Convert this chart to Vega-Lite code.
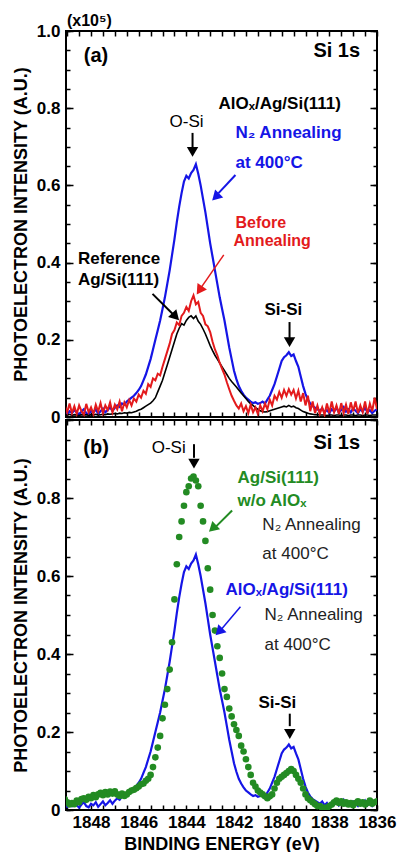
{
"$schema":"https://vega.github.io/schema/vega-lite/v6.json",
"background":"white",
"padding":{"left":11,"top":11,"right":5,"bottom":2},
"spacing":3,
"bounds":"flush",
"config":{
 "view":{"stroke":"black","strokeWidth":2},
 "font":"Liberation Sans",
 "axis":{"grid":false,"domain":false,"labelFont":"Liberation Sans","labelFontSize":17,"labelFontWeight":"bold","labelColor":"black","titleFont":"Liberation Sans","titleFontSize":18,"titleFontWeight":"bold","titleColor":"black","tickColor":"black","tickWidth":1.5,"labelOverlap":false,"labelFlush":false},
 "text":{"font":"Liberation Sans"}
},
"datasets":{"spec":[
{"e":1849.1,"b":0.012,"r":0.030,"k":0.006,"g":0.028},
{"e":1849.0,"b":0.008,"r":0.012,"k":0.005,"g":0.020},
{"e":1848.9,"b":0.015,"r":0.035,"k":0.007,"g":0.014},
{"e":1848.8,"b":0.010,"r":0.010,"k":0.004,"g":0.018},
{"e":1848.7,"b":0.018,"r":0.028,"k":0.006,"g":0.015},
{"e":1848.6,"b":0.012,"r":0.008,"k":0.005,"g":0.024},
{"e":1848.5,"b":0.006,"r":0.030,"k":0.004,"g":0.020},
{"e":1848.4,"b":0.014,"r":0.015,"k":0.006,"g":0.028},
{"e":1848.3,"b":0.020,"r":0.006,"k":0.005,"g":0.030},
{"e":1848.2,"b":0.010,"r":0.034,"k":0.006,"g":0.026},
{"e":1848.1,"b":0.007,"r":0.012,"k":0.004,"g":0.034},
{"e":1848.0,"b":0.016,"r":0.025,"k":0.006,"g":0.030},
{"e":1847.9,"b":0.012,"r":0.008,"k":0.005,"g":0.038},
{"e":1847.8,"b":0.020,"r":0.032,"k":0.007,"g":0.033},
{"e":1847.7,"b":0.008,"r":0.014,"k":0.005,"g":0.040},
{"e":1847.6,"b":0.015,"r":0.036,"k":0.006,"g":0.044},
{"e":1847.5,"b":0.022,"r":0.010,"k":0.007,"g":0.038},
{"e":1847.4,"b":0.012,"r":0.030,"k":0.006,"g":0.046},
{"e":1847.3,"b":0.018,"r":0.018,"k":0.008,"g":0.040},
{"e":1847.2,"b":0.025,"r":0.038,"k":0.007,"g":0.047},
{"e":1847.1,"b":0.016,"r":0.012,"k":0.008,"g":0.042},
{"e":1847.0,"b":0.024,"r":0.032,"k":0.009,"g":0.048},
{"e":1846.9,"b":0.030,"r":0.020,"k":0.008,"g":0.040},
{"e":1846.8,"b":0.026,"r":0.040,"k":0.010,"g":0.036},
{"e":1846.7,"b":0.035,"r":0.015,"k":0.009,"g":0.042},
{"e":1846.6,"b":0.032,"r":0.038,"k":0.011,"g":0.036},
{"e":1846.5,"b":0.040,"r":0.025,"k":0.010,"g":0.040},
{"e":1846.4,"b":0.045,"r":0.044,"k":0.012,"g":0.046},
{"e":1846.3,"b":0.050,"r":0.030,"k":0.011,"g":0.050},
{"e":1846.2,"b":0.055,"r":0.048,"k":0.013,"g":0.052},
{"e":1846.1,"b":0.062,"r":0.040,"k":0.015,"g":0.056},
{"e":1846.0,"b":0.070,"r":0.058,"k":0.018,"g":0.060},
{"e":1845.9,"b":0.080,"r":0.050,"k":0.020,"g":0.066},
{"e":1845.8,"b":0.095,"r":0.068,"k":0.024,"g":0.068},
{"e":1845.7,"b":0.110,"r":0.060,"k":0.028,"g":0.075},
{"e":1845.6,"b":0.130,"r":0.085,"k":0.032,"g":0.080},
{"e":1845.5,"b":0.150,"r":0.078,"k":0.036,"g":0.090},
{"e":1845.4,"b":0.175,"r":0.100,"k":0.042,"g":0.110},
{"e":1845.3,"b":0.200,"r":0.095,"k":0.050,"g":0.135},
{"e":1845.2,"b":0.225,"r":0.112,"k":0.065,"g":0.160},
{"e":1845.1,"b":0.250,"r":0.108,"k":0.080,"g":0.190},
{"e":1845.0,"b":0.280,"r":0.130,"k":0.095,"g":0.235},
{"e":1844.9,"b":0.310,"r":0.150,"k":0.115,"g":0.270},
{"e":1844.8,"b":0.345,"r":0.170,"k":0.135,"g":0.310},
{"e":1844.7,"b":0.380,"r":0.190,"k":0.155,"g":0.360},
{"e":1844.6,"b":0.420,"r":0.215,"k":0.175,"g":0.430},
{"e":1844.5,"b":0.460,"r":0.225,"k":0.195,"g":0.540},
{"e":1844.4,"b":0.505,"r":0.245,"k":0.215,"g":0.630},
{"e":1844.3,"b":0.545,"r":0.238,"k":0.230,"g":0.700},
{"e":1844.2,"b":0.580,"r":0.262,"k":0.242,"g":0.740},
{"e":1844.1,"b":0.610,"r":0.270,"k":0.238,"g":0.780},
{"e":1844.0,"b":0.625,"r":0.285,"k":0.250,"g":0.815},
{"e":1843.9,"b":0.618,"r":0.275,"k":0.258,"g":0.830},
{"e":1843.8,"b":0.632,"r":0.300,"k":0.262,"g":0.850},
{"e":1843.7,"b":0.640,"r":0.315,"k":0.255,"g":0.855},
{"e":1843.6,"b":0.655,"r":0.292,"k":0.262,"g":0.845},
{"e":1843.5,"b":0.630,"r":0.298,"k":0.248,"g":0.830},
{"e":1843.4,"b":0.600,"r":0.270,"k":0.240,"g":0.780},
{"e":1843.3,"b":0.565,"r":0.262,"k":0.228,"g":0.740},
{"e":1843.2,"b":0.530,"r":0.240,"k":0.215,"g":0.690},
{"e":1843.1,"b":0.490,"r":0.235,"k":0.200,"g":0.620},
{"e":1843.0,"b":0.450,"r":0.220,"k":0.185,"g":0.565},
{"e":1842.9,"b":0.415,"r":0.195,"k":0.172,"g":0.500},
{"e":1842.8,"b":0.380,"r":0.175,"k":0.160,"g":0.460},
{"e":1842.7,"b":0.345,"r":0.160,"k":0.150,"g":0.420},
{"e":1842.6,"b":0.310,"r":0.140,"k":0.140,"g":0.390},
{"e":1842.5,"b":0.280,"r":0.125,"k":0.130,"g":0.350},
{"e":1842.4,"b":0.250,"r":0.110,"k":0.120,"g":0.310},
{"e":1842.3,"b":0.215,"r":0.090,"k":0.110,"g":0.290},
{"e":1842.2,"b":0.180,"r":0.072,"k":0.100,"g":0.260},
{"e":1842.1,"b":0.150,"r":0.055,"k":0.092,"g":0.240},
{"e":1842.0,"b":0.120,"r":0.042,"k":0.085,"g":0.220},
{"e":1841.9,"b":0.098,"r":0.030,"k":0.078,"g":0.205},
{"e":1841.8,"b":0.080,"r":0.022,"k":0.070,"g":0.190},
{"e":1841.7,"b":0.068,"r":0.035,"k":0.062,"g":0.165},
{"e":1841.6,"b":0.058,"r":0.015,"k":0.055,"g":0.150},
{"e":1841.5,"b":0.050,"r":0.028,"k":0.048,"g":0.130},
{"e":1841.4,"b":0.045,"r":0.010,"k":0.040,"g":0.110},
{"e":1841.3,"b":0.040,"r":0.032,"k":0.034,"g":0.090},
{"e":1841.2,"b":0.036,"r":0.012,"k":0.030,"g":0.070},
{"e":1841.1,"b":0.038,"r":0.025,"k":0.024,"g":0.060},
{"e":1841.0,"b":0.034,"r":0.008,"k":0.020,"g":0.050},
{"e":1840.9,"b":0.036,"r":0.030,"k":0.016,"g":0.045},
{"e":1840.8,"b":0.040,"r":0.015,"k":0.014,"g":0.040},
{"e":1840.7,"b":0.035,"r":0.035,"k":0.013,"g":0.035},
{"e":1840.6,"b":0.045,"r":0.020,"k":0.014,"g":0.030},
{"e":1840.5,"b":0.055,"r":0.045,"k":0.016,"g":0.035},
{"e":1840.4,"b":0.070,"r":0.030,"k":0.018,"g":0.040},
{"e":1840.3,"b":0.085,"r":0.055,"k":0.020,"g":0.055},
{"e":1840.2,"b":0.105,"r":0.045,"k":0.022,"g":0.070},
{"e":1840.1,"b":0.125,"r":0.065,"k":0.024,"g":0.080},
{"e":1840.0,"b":0.145,"r":0.050,"k":0.026,"g":0.085},
{"e":1839.9,"b":0.155,"r":0.070,"k":0.028,"g":0.090},
{"e":1839.8,"b":0.160,"r":0.055,"k":0.026,"g":0.095},
{"e":1839.7,"b":0.168,"r":0.072,"k":0.030,"g":0.100},
{"e":1839.6,"b":0.158,"r":0.058,"k":0.026,"g":0.105},
{"e":1839.5,"b":0.162,"r":0.070,"k":0.028,"g":0.100},
{"e":1839.4,"b":0.145,"r":0.048,"k":0.024,"g":0.090},
{"e":1839.3,"b":0.130,"r":0.068,"k":0.022,"g":0.080},
{"e":1839.2,"b":0.105,"r":0.040,"k":0.018,"g":0.070},
{"e":1839.1,"b":0.080,"r":0.062,"k":0.014,"g":0.055},
{"e":1839.0,"b":0.060,"r":0.030,"k":0.012,"g":0.040},
{"e":1838.9,"b":0.045,"r":0.055,"k":0.010,"g":0.030},
{"e":1838.8,"b":0.035,"r":0.015,"k":0.008,"g":0.025},
{"e":1838.7,"b":0.028,"r":0.040,"k":0.007,"g":0.020},
{"e":1838.6,"b":0.024,"r":0.010,"k":0.006,"g":0.015},
{"e":1838.5,"b":0.020,"r":0.030,"k":0.006,"g":0.010},
{"e":1838.4,"b":0.016,"r":0.008,"k":0.005,"g":0.010},
{"e":1838.3,"b":0.022,"r":0.025,"k":0.005,"g":0.005},
{"e":1838.2,"b":0.012,"r":0.006,"k":0.005,"g":0.006},
{"e":1838.1,"b":0.018,"r":0.035,"k":0.004,"g":0.004},
{"e":1838.0,"b":0.010,"r":0.010,"k":0.005,"g":0.010},
{"e":1837.9,"b":0.020,"r":0.040,"k":0.005,"g":0.014},
{"e":1837.8,"b":0.014,"r":0.012,"k":0.004,"g":0.020},
{"e":1837.7,"b":0.024,"r":0.030,"k":0.005,"g":0.024},
{"e":1837.6,"b":0.012,"r":0.008,"k":0.005,"g":0.018},
{"e":1837.5,"b":0.018,"r":0.036,"k":0.004,"g":0.022},
{"e":1837.4,"b":0.026,"r":0.010,"k":0.005,"g":0.016},
{"e":1837.3,"b":0.014,"r":0.032,"k":0.005,"g":0.020},
{"e":1837.2,"b":0.020,"r":0.008,"k":0.004,"g":0.014},
{"e":1837.1,"b":0.012,"r":0.038,"k":0.005,"g":0.018},
{"e":1837.0,"b":0.022,"r":0.015,"k":0.005,"g":0.012},
{"e":1836.9,"b":0.016,"r":0.040,"k":0.004,"g":0.018},
{"e":1836.8,"b":0.010,"r":0.010,"k":0.005,"g":0.022},
{"e":1836.7,"b":0.020,"r":0.030,"k":0.005,"g":0.016},
{"e":1836.6,"b":0.014,"r":0.012,"k":0.004,"g":0.020},
{"e":1836.5,"b":0.024,"r":0.040,"k":0.005,"g":0.014},
{"e":1836.4,"b":0.012,"r":0.008,"k":0.005,"g":0.018},
{"e":1836.3,"b":0.018,"r":0.035,"k":0.004,"g":0.024},
{"e":1836.2,"b":0.010,"r":0.015,"k":0.005,"g":0.016},
{"e":1836.1,"b":0.016,"r":0.050,"k":0.005,"g":0.020},
{"e":1836.0,"b":0.020,"r":0.020,"k":0.005,"g":0.022}
]},
"vconcat":[
{
 "width":311,"height":386,
 "resolve":{"axis":{"x":"independent","y":"independent"}},
 "layer":[
  {"data":{"name":"spec"},"mark":{"type":"line","color":"#1515e6","strokeWidth":2.2,"clip":true},
   "encoding":{
    "x":{"field":"e","type":"quantitative","scale":{"domain":[1849.05,1836],"nice":false,"zero":false},"axis":{"orient":"bottom","values":[1836,1836.5,1837,1837.5,1838,1838.5,1839,1839.5,1840,1840.5,1841,1841.5,1842,1842.5,1843,1843.5,1844,1844.5,1845,1845.5,1846,1846.5,1847,1847.5,1848,1848.5,1849],"tickSize":-5,"labels":false,"title":null}},
    "y":{"field":"b","type":"quantitative","scale":{"domain":[0,1],"nice":false,"zero":false},"axis":{"orient":"left","values":[0,0.2,0.4,0.6,0.8,1],"ticks":false,"labelPadding":6,"labelExpr":"datum.value == 0 ? '0' : format(datum.value, '.1f')","title":"PHOTOELECTRON INTENSITY (A.U.)","titlePadding":6}}}},
  {"data":{"name":"spec"},"mark":{"type":"line","color":"black","strokeWidth":1.6,"clip":true},
   "encoding":{
    "x":{"field":"e","type":"quantitative","scale":{"domain":[1849.05,1836],"nice":false,"zero":false},"axis":{"orient":"top","values":[1836,1836.5,1837,1837.5,1838,1838.5,1839,1839.5,1840,1840.5,1841,1841.5,1842,1842.5,1843,1843.5,1844,1844.5,1845,1845.5,1846,1846.5,1847,1847.5,1848,1848.5,1849],"tickSize":-5,"labels":false,"title":null}},
    "y":{"field":"k","type":"quantitative","scale":{"domain":[0,1],"nice":false,"zero":false},"axis":{"orient":"left","values":[0,0.2,0.4,0.6,0.8,1],"tickSize":-7,"labels":false,"title":null}}}},
  {"data":{"name":"spec"},"mark":{"type":"line","color":"#e31a1c","strokeWidth":2,"clip":true},
   "encoding":{
    "x":{"field":"e","type":"quantitative","scale":{"domain":[1849.05,1836],"nice":false,"zero":false},"axis":null},
    "y":{"field":"r","type":"quantitative","scale":{"domain":[0,1],"nice":false,"zero":false},"axis":{"orient":"right","values":[0,0.2,0.4,0.6,0.8,1],"tickSize":-7,"labels":false,"title":null}}}},
  {"data":{"values":[{"e":1842.65,"v":0.811,"t":"AlOₓ/Ag/Si(111)"},{"e":1848.55,"v":0.409,"t":"Reference"},{"e":1848.55,"v":0.355,"t":"Ag/Si(111)"}]},
   "mark":{"type":"text","align":"left","baseline":"middle","fontSize":17,"fontWeight":"bold","color":"black"},
   "encoding":{
    "x":{"field":"e","type":"quantitative","scale":{"domain":[1849.05,1836],"nice":false,"zero":false},"axis":null},
    "y":{"field":"v","type":"quantitative","scale":{"domain":[0,1],"nice":false,"zero":false},"axis":{"orient":"left","values":[0,0.05,0.1,0.15,0.2,0.25,0.3,0.35,0.4,0.45,0.5,0.55,0.6,0.65,0.7,0.75,0.8,0.85,0.9,0.95,1],"tickSize":-4,"labels":false,"title":null}},
    "text":{"field":"t"}}},
  {"data":{"values":[{"e":1841.94,"v":0.736,"t":"N₂ Annealing"},{"e":1841.94,"v":0.658,"t":"at 400°C"}]},
   "mark":{"type":"text","align":"left","baseline":"middle","fontSize":17,"fontWeight":"bold","color":"#1515e6"},
   "encoding":{
    "x":{"field":"e","type":"quantitative","scale":{"domain":[1849.05,1836],"nice":false,"zero":false},"axis":null},
    "y":{"field":"v","type":"quantitative","scale":{"domain":[0,1],"nice":false,"zero":false},"axis":{"orient":"right","values":[0,0.05,0.1,0.15,0.2,0.25,0.3,0.35,0.4,0.45,0.5,0.55,0.6,0.65,0.7,0.75,0.8,0.85,0.9,0.95,1],"tickSize":-4,"labels":false,"title":null}},
    "text":{"field":"t"}}},
  {"data":{"values":[{"e":1841.94,"v":0.502,"t":"Before"},{"e":1842.02,"v":0.455,"t":"Annealing"}]},
   "mark":{"type":"text","align":"left","baseline":"middle","fontSize":16,"fontWeight":"bold","color":"#e31a1c"},
   "encoding":{
    "x":{"field":"e","type":"quantitative","scale":{"domain":[1849.05,1836],"nice":false,"zero":false},"axis":null},
    "y":{"field":"v","type":"quantitative","scale":{"domain":[0,1],"nice":false,"zero":false},"axis":null},
    "text":{"field":"t"}}},
  {"data":{"values":[{"e":1847.79,"v":0.935,"t":"(a)"}]},
   "mark":{"type":"text","align":"center","baseline":"middle","fontSize":20,"fontWeight":"bold","color":"black"},
   "encoding":{
    "x":{"field":"e","type":"quantitative","scale":{"domain":[1849.05,1836],"nice":false,"zero":false},"axis":null},
    "y":{"field":"v","type":"quantitative","scale":{"domain":[0,1],"nice":false,"zero":false},"axis":null},
    "text":{"field":"t"}}},
  {"data":{"values":[{"e":1836.71,"v":0.947,"t":"Si 1s"}]},
   "mark":{"type":"text","align":"right","baseline":"middle","fontSize":20,"fontWeight":"bold","color":"black"},
   "encoding":{
    "x":{"field":"e","type":"quantitative","scale":{"domain":[1849.05,1836],"nice":false,"zero":false},"axis":null},
    "y":{"field":"v","type":"quantitative","scale":{"domain":[0,1],"nice":false,"zero":false},"axis":null},
    "text":{"field":"t"}}},
  {"data":{"values":[{"e":1843.99,"v":0.764,"t":"O-Si"}]},
   "mark":{"type":"text","align":"center","baseline":"middle","fontSize":17,"fontWeight":"normal","color":"black"},
   "encoding":{
    "x":{"field":"e","type":"quantitative","scale":{"domain":[1849.05,1836],"nice":false,"zero":false},"axis":null},
    "y":{"field":"v","type":"quantitative","scale":{"domain":[0,1],"nice":false,"zero":false},"axis":null},
    "text":{"field":"t"}}},
  {"data":{"values":[{"e":1839.93,"v":0.277,"t":"Si-Si"}]},
   "mark":{"type":"text","align":"center","baseline":"middle","fontSize":17,"fontWeight":"bold","color":"black"},
   "encoding":{
    "x":{"field":"e","type":"quantitative","scale":{"domain":[1849.05,1836],"nice":false,"zero":false},"axis":null},
    "y":{"field":"v","type":"quantitative","scale":{"domain":[0,1],"nice":false,"zero":false},"axis":null},
    "text":{"field":"t"}}},
  {"data":{"values":[{"e":1849.01,"v":1.026,"t":"(x10⁵)"}]},
   "mark":{"type":"text","align":"left","baseline":"middle","fontSize":16,"fontWeight":"bold","color":"black"},
   "encoding":{
    "x":{"field":"e","type":"quantitative","scale":{"domain":[1849.05,1836],"nice":false,"zero":false},"axis":null},
    "y":{"field":"v","type":"quantitative","scale":{"domain":[0,1],"nice":false,"zero":false},"axis":null},
    "text":{"field":"t"}}},
  {"data":{"values":[{"e":1843.74,"e2":1843.74,"v":0.736,"v2":0.697},{"e":1839.67,"e2":1839.67,"v":0.246,"v2":0.205},{"e":1845.42,"e2":1844.57,"v":0.319,"v2":0.267}]},
   "mark":{"type":"rule","color":"black","strokeWidth":2},
   "encoding":{
    "x":{"field":"e","type":"quantitative","scale":{"domain":[1849.05,1836],"nice":false,"zero":false},"axis":null},
    "x2":{"field":"e2"},
    "y":{"field":"v","type":"quantitative","scale":{"domain":[0,1],"nice":false,"zero":false},"axis":null},
    "y2":{"field":"v2"}}},
  {"data":{"values":[{"e":1841.94,"e2":1842.65,"v":0.627,"v2":0.58}]},
   "mark":{"type":"rule","color":"#1515e6","strokeWidth":2},
   "encoding":{
    "x":{"field":"e","type":"quantitative","scale":{"domain":[1849.05,1836],"nice":false,"zero":false},"axis":null},
    "x2":{"field":"e2"},
    "y":{"field":"v","type":"quantitative","scale":{"domain":[0,1],"nice":false,"zero":false},"axis":null},
    "y2":{"field":"v2"}}},
  {"data":{"values":[{"e":1842.43,"e2":1843.36,"v":0.42,"v2":0.337}]},
   "mark":{"type":"rule","color":"#e31a1c","strokeWidth":1.5},
   "encoding":{
    "x":{"field":"e","type":"quantitative","scale":{"domain":[1849.05,1836],"nice":false,"zero":false},"axis":null},
    "x2":{"field":"e2"},
    "y":{"field":"v","type":"quantitative","scale":{"domain":[0,1],"nice":false,"zero":false},"axis":null},
    "y2":{"field":"v2"}}},
  {"data":{"values":[{"e":1843.74,"v":0.687},{"e":1839.67,"v":0.194}]},
   "mark":{"type":"point","shape":"triangle-down","filled":true,"size":130,"color":"black","opacity":1},
   "encoding":{
    "x":{"field":"e","type":"quantitative","scale":{"domain":[1849.05,1836],"nice":false,"zero":false},"axis":null},
    "y":{"field":"v","type":"quantitative","scale":{"domain":[0,1],"nice":false,"zero":false},"axis":null}}},
  {"data":{"values":[{"e":1844.45,"v":0.26}]},
   "mark":{"type":"point","shape":"triangle-up","filled":true,"size":130,"angle":136,"color":"black","opacity":1},
   "encoding":{
    "x":{"field":"e","type":"quantitative","scale":{"domain":[1849.05,1836],"nice":false,"zero":false},"axis":null},
    "y":{"field":"v","type":"quantitative","scale":{"domain":[0,1],"nice":false,"zero":false},"axis":null}}},
  {"data":{"values":[{"e":1842.77,"v":0.57}]},
   "mark":{"type":"point","shape":"triangle-up","filled":true,"size":130,"angle":225,"color":"#1515e6","opacity":1},
   "encoding":{
    "x":{"field":"e","type":"quantitative","scale":{"domain":[1849.05,1836],"nice":false,"zero":false},"axis":null},
    "y":{"field":"v","type":"quantitative","scale":{"domain":[0,1],"nice":false,"zero":false},"axis":null}}},
  {"data":{"values":[{"e":1843.45,"v":0.328}]},
   "mark":{"type":"point","shape":"triangle-up","filled":true,"size":130,"angle":214,"color":"#e31a1c","opacity":1},
   "encoding":{
    "x":{"field":"e","type":"quantitative","scale":{"domain":[1849.05,1836],"nice":false,"zero":false},"axis":null},
    "y":{"field":"v","type":"quantitative","scale":{"domain":[0,1],"nice":false,"zero":false},"axis":null}}}
 ]
},
{
 "width":311,"height":390,
 "resolve":{"axis":{"x":"independent","y":"independent"}},
 "layer":[
  {"data":{"name":"spec"},"mark":{"type":"line","color":"#1515e6","strokeWidth":2.2,"clip":true},
   "encoding":{
    "x":{"field":"e","type":"quantitative","scale":{"domain":[1849.05,1836],"nice":false,"zero":false},"axis":{"orient":"bottom","values":[1836,1838,1840,1842,1844,1846,1848],"ticks":false,"labelPadding":4,"format":"d","title":"BINDING ENERGY (eV)","titlePadding":5}},
    "y":{"field":"b","type":"quantitative","scale":{"domain":[0,1],"nice":false,"zero":false},"axis":{"orient":"left","values":[0,0.2,0.4,0.6,0.8],"ticks":false,"labelPadding":6,"labelExpr":"datum.value == 0 ? '0' : format(datum.value, '.1f')","title":"PHOTOELECTRON INTENSITY (A.U.)","titlePadding":6}}}},
  {"data":{"name":"spec"},"mark":{"type":"circle","color":"#238b23","size":44,"opacity":1,"clip":true},
   "encoding":{
    "x":{"field":"e","type":"quantitative","scale":{"domain":[1849.05,1836],"nice":false,"zero":false},"axis":{"orient":"bottom","values":[1836,1836.5,1837,1837.5,1838,1838.5,1839,1839.5,1840,1840.5,1841,1841.5,1842,1842.5,1843,1843.5,1844,1844.5,1845,1845.5,1846,1846.5,1847,1847.5,1848,1848.5,1849],"tickSize":-5,"labels":false,"title":null}},
    "y":{"field":"g","type":"quantitative","scale":{"domain":[0,1],"nice":false,"zero":false},"axis":{"orient":"left","values":[0,0.2,0.4,0.6,0.8,1],"tickSize":-7,"labels":false,"title":null}}}},
  {"data":{"values":[{"e":1840.18,"v":0.274,"t":"Si-Si"}]},
   "mark":{"type":"text","align":"center","baseline":"middle","fontSize":17,"fontWeight":"bold","color":"black"},
   "encoding":{
    "x":{"field":"e","type":"quantitative","scale":{"domain":[1849.05,1836],"nice":false,"zero":false},"axis":{"orient":"top","values":[1836,1836.5,1837,1837.5,1838,1838.5,1839,1839.5,1840,1840.5,1841,1841.5,1842,1842.5,1843,1843.5,1844,1844.5,1845,1845.5,1846,1846.5,1847,1847.5,1848,1848.5,1849],"tickSize":-5,"labels":false,"title":null}},
    "y":{"field":"v","type":"quantitative","scale":{"domain":[0,1],"nice":false,"zero":false},"axis":{"orient":"right","values":[0,0.2,0.4,0.6,0.8,1],"tickSize":-7,"labels":false,"title":null}},
    "text":{"field":"t"}}},
  {"data":{"values":[{"e":1840.81,"v":0.731,"t":"N₂ Annealing"},{"e":1840.81,"v":0.656,"t":"at 400°C"},{"e":1840.72,"v":0.5,"t":"N₂ Annealing"},{"e":1840.72,"v":0.423,"t":"at 400°C"}]},
   "mark":{"type":"text","align":"left","baseline":"middle","fontSize":17,"fontWeight":"normal","color":"#222222"},
   "encoding":{
    "x":{"field":"e","type":"quantitative","scale":{"domain":[1849.05,1836],"nice":false,"zero":false},"axis":null},
    "y":{"field":"v","type":"quantitative","scale":{"domain":[0,1],"nice":false,"zero":false},"axis":{"orient":"left","values":[0,0.05,0.1,0.15,0.2,0.25,0.3,0.35,0.4,0.45,0.5,0.55,0.6,0.65,0.7,0.75,0.8,0.85,0.9,0.95,1],"tickSize":-4,"labels":false,"title":null}},
    "text":{"field":"t"}}},
  {"data":{"values":[{"e":1841.85,"v":0.851,"t":"Ag/Si(111)"},{"e":1841.85,"v":0.792,"t":"w/o AlOₓ"}]},
   "mark":{"type":"text","align":"left","baseline":"middle","fontSize":17,"fontWeight":"bold","color":"#238b23"},
   "encoding":{
    "x":{"field":"e","type":"quantitative","scale":{"domain":[1849.05,1836],"nice":false,"zero":false},"axis":null},
    "y":{"field":"v","type":"quantitative","scale":{"domain":[0,1],"nice":false,"zero":false},"axis":{"orient":"right","values":[0,0.05,0.1,0.15,0.2,0.25,0.3,0.35,0.4,0.45,0.5,0.55,0.6,0.65,0.7,0.75,0.8,0.85,0.9,0.95,1],"tickSize":-4,"labels":false,"title":null}},
    "text":{"field":"t"}}},
  {"data":{"values":[{"e":1842.36,"v":0.564,"t":"AlOₓ/Ag/Si(111)"}]},
   "mark":{"type":"text","align":"left","baseline":"middle","fontSize":17,"fontWeight":"bold","color":"#1515e6"},
   "encoding":{
    "x":{"field":"e","type":"quantitative","scale":{"domain":[1849.05,1836],"nice":false,"zero":false},"axis":null},
    "y":{"field":"v","type":"quantitative","scale":{"domain":[0,1],"nice":false,"zero":false},"axis":null},
    "text":{"field":"t"}}},
  {"data":{"values":[{"e":1847.79,"v":0.928,"t":"(b)"}]},
   "mark":{"type":"text","align":"center","baseline":"middle","fontSize":20,"fontWeight":"bold","color":"black"},
   "encoding":{
    "x":{"field":"e","type":"quantitative","scale":{"domain":[1849.05,1836],"nice":false,"zero":false},"axis":null},
    "y":{"field":"v","type":"quantitative","scale":{"domain":[0,1],"nice":false,"zero":false},"axis":null},
    "text":{"field":"t"}}},
  {"data":{"values":[{"e":1836.71,"v":0.941,"t":"Si 1s"}]},
   "mark":{"type":"text","align":"right","baseline":"middle","fontSize":20,"fontWeight":"bold","color":"black"},
   "encoding":{
    "x":{"field":"e","type":"quantitative","scale":{"domain":[1849.05,1836],"nice":false,"zero":false},"axis":null},
    "y":{"field":"v","type":"quantitative","scale":{"domain":[0,1],"nice":false,"zero":false},"axis":null},
    "text":{"field":"t"}}},
  {"data":{"values":[{"e":1844.74,"v":0.928,"t":"O-Si"}]},
   "mark":{"type":"text","align":"center","baseline":"middle","fontSize":17,"fontWeight":"normal","color":"black"},
   "encoding":{
    "x":{"field":"e","type":"quantitative","scale":{"domain":[1849.05,1836],"nice":false,"zero":false},"axis":null},
    "y":{"field":"v","type":"quantitative","scale":{"domain":[0,1],"nice":false,"zero":false},"axis":null},
    "text":{"field":"t"}}},
  {"data":{"values":[{"e":1843.68,"e2":1843.68,"v":0.938,"v2":0.903},{"e":1839.66,"e2":1839.66,"v":0.247,"v2":0.215}]},
   "mark":{"type":"rule","color":"black","strokeWidth":2},
   "encoding":{
    "x":{"field":"e","type":"quantitative","scale":{"domain":[1849.05,1836],"nice":false,"zero":false},"axis":null},
    "x2":{"field":"e2"},
    "y":{"field":"v","type":"quantitative","scale":{"domain":[0,1],"nice":false,"zero":false},"axis":null},
    "y2":{"field":"v2"}}},
  {"data":{"values":[{"e":1842.08,"e2":1842.77,"v":0.768,"v2":0.726}]},
   "mark":{"type":"rule","color":"#238b23","strokeWidth":2},
   "encoding":{
    "x":{"field":"e","type":"quantitative","scale":{"domain":[1849.05,1836],"nice":false,"zero":false},"axis":null},
    "x2":{"field":"e2"},
    "y":{"field":"v","type":"quantitative","scale":{"domain":[0,1],"nice":false,"zero":false},"axis":null},
    "y2":{"field":"v2"}}},
  {"data":{"values":[{"e":1841.73,"e2":1842.52,"v":0.521,"v2":0.464}]},
   "mark":{"type":"rule","color":"#1515e6","strokeWidth":1.5},
   "encoding":{
    "x":{"field":"e","type":"quantitative","scale":{"domain":[1849.05,1836],"nice":false,"zero":false},"axis":null},
    "x2":{"field":"e2"},
    "y":{"field":"v","type":"quantitative","scale":{"domain":[0,1],"nice":false,"zero":false},"axis":null},
    "y2":{"field":"v2"}}},
  {"data":{"values":[{"e":1843.68,"v":0.888},{"e":1839.66,"v":0.195}]},
   "mark":{"type":"point","shape":"triangle-down","filled":true,"size":130,"color":"black","opacity":1},
   "encoding":{
    "x":{"field":"e","type":"quantitative","scale":{"domain":[1849.05,1836],"nice":false,"zero":false},"axis":null},
    "y":{"field":"v","type":"quantitative","scale":{"domain":[0,1],"nice":false,"zero":false},"axis":null}}},
  {"data":{"values":[{"e":1842.9,"v":0.722}]},
   "mark":{"type":"point","shape":"triangle-up","filled":true,"size":130,"angle":227,"color":"#238b23","opacity":1},
   "encoding":{
    "x":{"field":"e","type":"quantitative","scale":{"domain":[1849.05,1836],"nice":false,"zero":false},"axis":null},
    "y":{"field":"v","type":"quantitative","scale":{"domain":[0,1],"nice":false,"zero":false},"axis":null}}},
  {"data":{"values":[{"e":1842.63,"v":0.457}]},
   "mark":{"type":"point","shape":"triangle-up","filled":true,"size":130,"angle":224,"color":"#1515e6","opacity":1},
   "encoding":{
    "x":{"field":"e","type":"quantitative","scale":{"domain":[1849.05,1836],"nice":false,"zero":false},"axis":null},
    "y":{"field":"v","type":"quantitative","scale":{"domain":[0,1],"nice":false,"zero":false},"axis":null}}}
 ]
}
]
}
